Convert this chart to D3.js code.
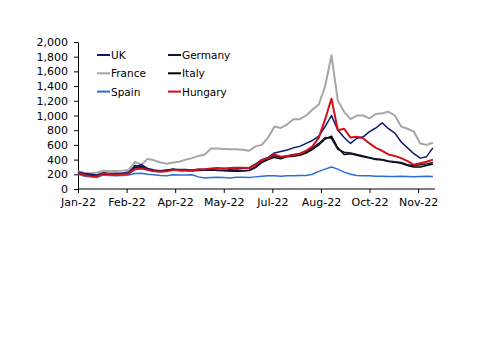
<!DOCTYPE html>
<html><head><meta charset="utf-8">
<script src="https://cdn.jsdelivr.net/npm/d3@7"></script>
<style>body{margin:0;background:#fff}svg{display:block}text{font-family:"DejaVu Sans",sans-serif}</style>
</head><body><svg id="c" width="500" height="353"></svg>
<script>
// day offsets (every 6 days from start of Jan-22)
const days = d3.range(0, 337, 6);
const tickDays = [0, 46, 92, 138, 184, 230, 276, 322];
const tickLabels = ["Jan-22","Feb-22","Apr-22","May-22","Jul-22","Aug-22","Oct-22","Nov-22"];
const yTicks = [0,200,400,600,800,1000,1200,1400,1600,1800,2000];

const uk = [230,210,200,190,220,210,215,215,230,300,330,280,260,250,260,270,265,265,260,270,270,275,280,280,270,275,280,290,340,400,430,490,510,530,560,580,620,660,720,850,1000,800,700,620,690,710,780,830,900,820,760,640,560,480,420,440,560];
const germany = [215,195,185,180,210,200,200,205,210,290,310,260,245,240,250,265,250,250,248,250,255,260,255,250,250,255,250,255,300,370,410,450,430,450,470,480,510,560,620,700,690,540,500,490,470,450,430,410,400,380,370,360,330,320,330,340,360];
const france = [240,220,215,225,250,240,245,250,260,370,330,410,390,360,345,360,370,400,420,450,470,550,550,545,540,540,535,520,580,600,700,850,830,880,950,950,1000,1080,1150,1400,1820,1200,1050,950,1000,1000,960,1020,1030,1050,1000,850,820,780,620,600,630];
const italy = [220,200,190,185,215,205,205,210,215,320,290,265,250,245,255,270,255,255,250,255,260,265,250,255,245,240,245,250,290,360,400,430,410,440,445,460,490,540,600,680,720,560,470,480,460,440,420,400,395,375,365,350,320,300,300,320,340];
const spain = [200,175,165,160,190,185,180,185,190,210,215,200,195,185,180,195,190,190,195,165,150,155,160,155,150,160,160,155,165,175,180,180,175,180,180,185,185,200,240,270,300,270,230,200,185,180,180,175,175,170,170,175,170,165,170,175,170];
const hungary = [220,190,175,170,210,200,195,200,210,270,280,260,240,235,240,260,255,255,250,265,270,280,285,280,285,290,290,285,330,390,420,470,440,450,460,480,520,580,700,950,1230,800,820,700,710,690,620,560,520,470,450,420,380,330,350,370,400];

const seriesNames = ["UK","Germany","France","Italy","Spain","Hungary"];
const seriesVals = [uk, germany, france, italy, spain, hungary];
const colors = ["#0d1a6e","#121533","#a6a6a6","#000000","#2a6dd4","#d0101a"];
const widths = [1.5,1.5,2,1.5,1.5,2];

const svg = d3.select("#c");
const x = d3.scaleLinear().domain([0, 338]).range([78, 435]);
const y = d3.scaleLinear().domain([0, 2000]).range([189, 42]);

// y axis
const ya = svg.append("g").attr("transform","translate(78,0)")
  .call(d3.axisLeft(y).tickValues(yTicks).tickSize(4).tickPadding(6).tickFormat(d3.format(",")));
ya.select(".domain").attr("stroke","#000");
ya.selectAll("text").attr("font-size","11px").attr("fill","#000").style("font-family","DejaVu Sans");

// x axis
const xa = svg.append("g").attr("transform","translate(0,189)")
  .call(d3.axisBottom(x).tickValues(tickDays).tickSize(4).tickPadding(5).tickFormat((d,i)=>tickLabels[i]));
xa.select(".domain").attr("stroke","#000").attr("d","M78,0H435");
xa.selectAll("text").attr("font-size","11px").attr("fill","#000").style("font-family","DejaVu Sans");

const line = d3.line().x((d,i)=>x(days[i])).y(d=>y(d));
const order = [4,2,3,1,0,5];
order.forEach(k=>{
  svg.append("path").datum(seriesVals[k]).attr("d",line)
    .attr("fill","none").attr("stroke",colors[k]).attr("stroke-width",widths[k]).attr("stroke-linejoin","round");
});

// legend
const lg = svg.append("g");
seriesNames.forEach((n,i)=>{
  const col = i%2, row = Math.floor(i/2);
  const lx = col ? 168 : 97, ly = 55 + row*18.3;
  lg.append("line").attr("x1",lx).attr("x2",lx+13).attr("y1",ly).attr("y2",ly)
    .attr("stroke",colors[i]).attr("stroke-width",2);
  lg.append("text").attr("x",lx+14).attr("y",ly+4).attr("font-size","10.5px").attr("fill","#000").text(n);
});
</script></body></html>
